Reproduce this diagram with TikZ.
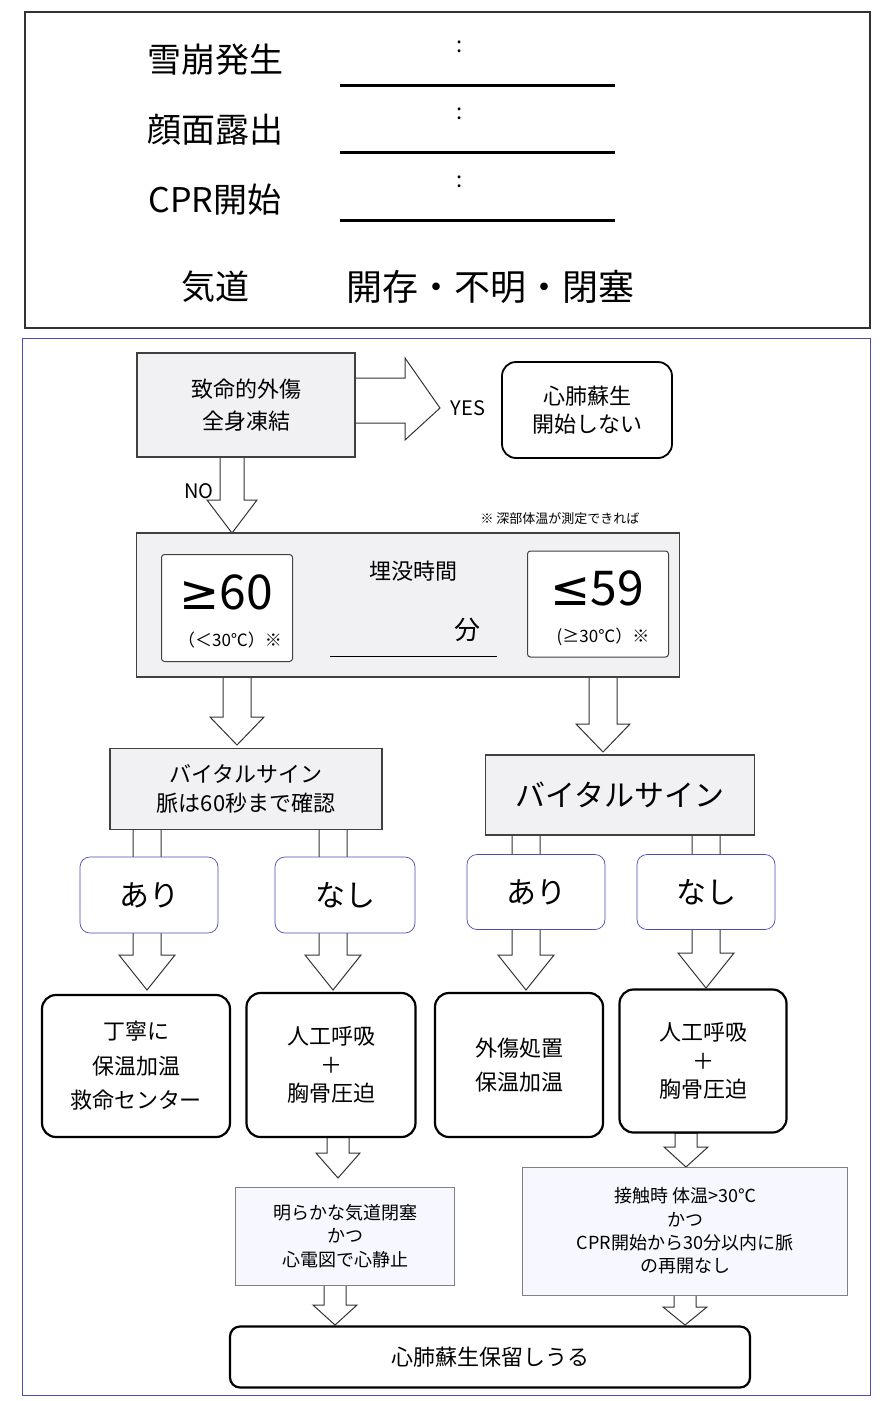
\documentclass[tikz,border=0pt]{standalone}
\usepackage{fontspec}
\setmainfont{Noto Sans CJK JP}
\newfontfamily\djvu{DejaVu Sans}
\begin{document}
\begin{tikzpicture}[x=1pt,y=-1pt,
 bx/.style={draw=black!75,line width=1.2pt,fill=blue!12!gray!10!white,align=center,inner sep=0},
 rb/.style={draw=black,line width=2.2pt,rounded corners=14pt,fill=white,align=center},
 sb/.style={draw=blue!40!gray,line width=0.7pt,rounded corners=10pt,fill=white},
 ha/.style={draw=black!80,line width=1pt,fill=white},
 fs/.style={font=\fontsize{#1pt}{\dimexpr #1pt*13/10\relax}\selectfont}]
\newcommand\varr[6]{\draw[ha] ({#1-#4},#2) -- ({#1+#4},#2) -- ({#1+#4},{#3-#6}) -- ({#1+#5},{#3-#6}) -- (#1,#3) -- ({#1-#5},{#3-#6}) -- ({#1-#4},{#3-#6}) -- cycle;}
\useasboundingbox (0,0) rectangle (880,1401);
\fill[white] (0,0) rectangle (880,1401);
% top box
\draw[line width=1.2pt,black!80] (25,12) rectangle (870,328);
\node[fs=34] (t1) at (215,60) {雪崩発生};
\node[fs=34] (t2) at (215,130) {顔面露出};
\node[fs=34] (t3) at (215,200) {CPR開始};
\foreach \y/\n in {85/a,152/b,220/c}{
 \draw[line width=3pt] (340,\y) -- (615,\y);
 \node[fs=22] at (460,{\y-38}) {:};}
\node[fs=34] (aw) at (215,287) {気道};
\node[fs=36] (aw2) at (490,287) {開存・不明・閉塞};
% bottom frame
\draw[blue!40!gray,line width=0.7pt] (22,338) rectangle (870,1395);
% arrows first
\draw[ha] (355,378) -- (405,378) -- (405,358) -- (440,408) -- (405,440) -- (405,423) -- (355,423) -- cycle;
\varr{232}{457}{533}{12}{25}{33}
\varr{237}{677}{745}{14}{27}{28}
\varr{603}{677}{752}{14}{27}{28}
\varr{147}{829}{990}{14}{28}{35}
\varr{333}{829}{990}{14}{28}{35}
\varr{526}{835}{990}{14}{28}{35}
\varr{706}{835}{988}{14}{28}{35}
\varr{338}{1137}{1178}{11}{22}{25}
\varr{686}{1133}{1167}{11}{22}{20}
\varr{335}{1285}{1325}{11}{22}{20}
\varr{685}{1295}{1325}{11}{22}{18}
% nodes
\node[bx,minimum width=218,minimum height=104,fs=22] (b1) at (246,405) {致命的外傷\\[4pt]全身凍結};
\node[fs=20] (yes) at (468,408) {YES};
\node[draw,line width=1.8pt,rounded corners=14pt,minimum width=170,minimum height=96,align=center,fs=22] (no1) at (587,410) {心肺蘇生\\開始しない};
\node[fs=20] (nol) at (199,491) {NO};
\node[fs=13] (note) at (560,519) {※ 深部体温が測定できれば};
\node[bx,minimum width=543,minimum height=144] (bt) at (408,605) {};
\node[draw=black!75,line width=1pt,fill=white,rounded corners=3pt,minimum width=131,minimum height=107] (lt) at (227,608) {};
\node[draw=black!75,line width=1pt,fill=white,rounded corners=3pt,minimum width=141,minimum height=106] (gt) at (598,604) {};
\node[fs=48] at (226,592) {{\djvu ≥}60};
\node[fs=17] at (230,640) {（＜30℃）※};
\node[fs=48] at (597,588) {{\djvu ≤}59};
\node[fs=17] at (603,637) {(≥30℃）※};
\node[fs=22] (bt1) at (413,571) {埋没時間};
\node[fs=26] (bt2) at (467,630) {分};
\draw[line width=1pt] (330,656) -- (497,656);
\node[bx,minimum width=272,minimum height=81,fs=22] (v1) at (246,789) {バイタルサイン\\脈は60秒まで確認};
\node[bx,minimum width=269,minimum height=80,fs=30] (v2) at (620,795) {バイタルサイン};
\node[sb,minimum width=138,minimum height=76,fs=30] (a1) at (149,895) {あり};
\node[sb,minimum width=140,minimum height=76,fs=30] (n1) at (345,895) {なし};
\node[sb,minimum width=138,minimum height=75,fs=30] (a2) at (536,892) {あり};
\node[sb,minimum width=138,minimum height=75,fs=30] (n2) at (706,892) {なし};
\node[rb,minimum width=188,minimum height=142,fs=22] (c1) at (136,1066) {丁寧に\\[6pt]保温加温\\[6pt]救命センター};
\node[rb,minimum width=169,minimum height=144,fs=22] (c2) at (331,1065) {人工呼吸\\＋\\胸骨圧迫};
\node[rb,minimum width=168,minimum height=144,fs=22] (c3) at (519,1065) {外傷処置\\[6pt]保温加温};
\node[rb,minimum width=167,minimum height=143,fs=22] (c4) at (703,1061) {人工呼吸\\＋\\胸骨圧迫};
\node[draw=black!50,fill=blue!3,minimum width=219,minimum height=98,align=center,fs=18] (d1) at (345,1236) {明らかな気道閉塞\\かつ\\心電図で心静止};
\node[draw=black!50,fill=blue!3,minimum width=325,minimum height=128,align=center,fs=18] (d2) at (685,1231) {接触時 体温>30℃\\かつ\\CPR開始から30分以内に脈\\の再開なし};
\node[rb,rounded corners=10pt,minimum width=520,minimum height=61,fs=22] (fin) at (490,1357) {心肺蘇生保留しうる};
\end{tikzpicture}
\end{document}
